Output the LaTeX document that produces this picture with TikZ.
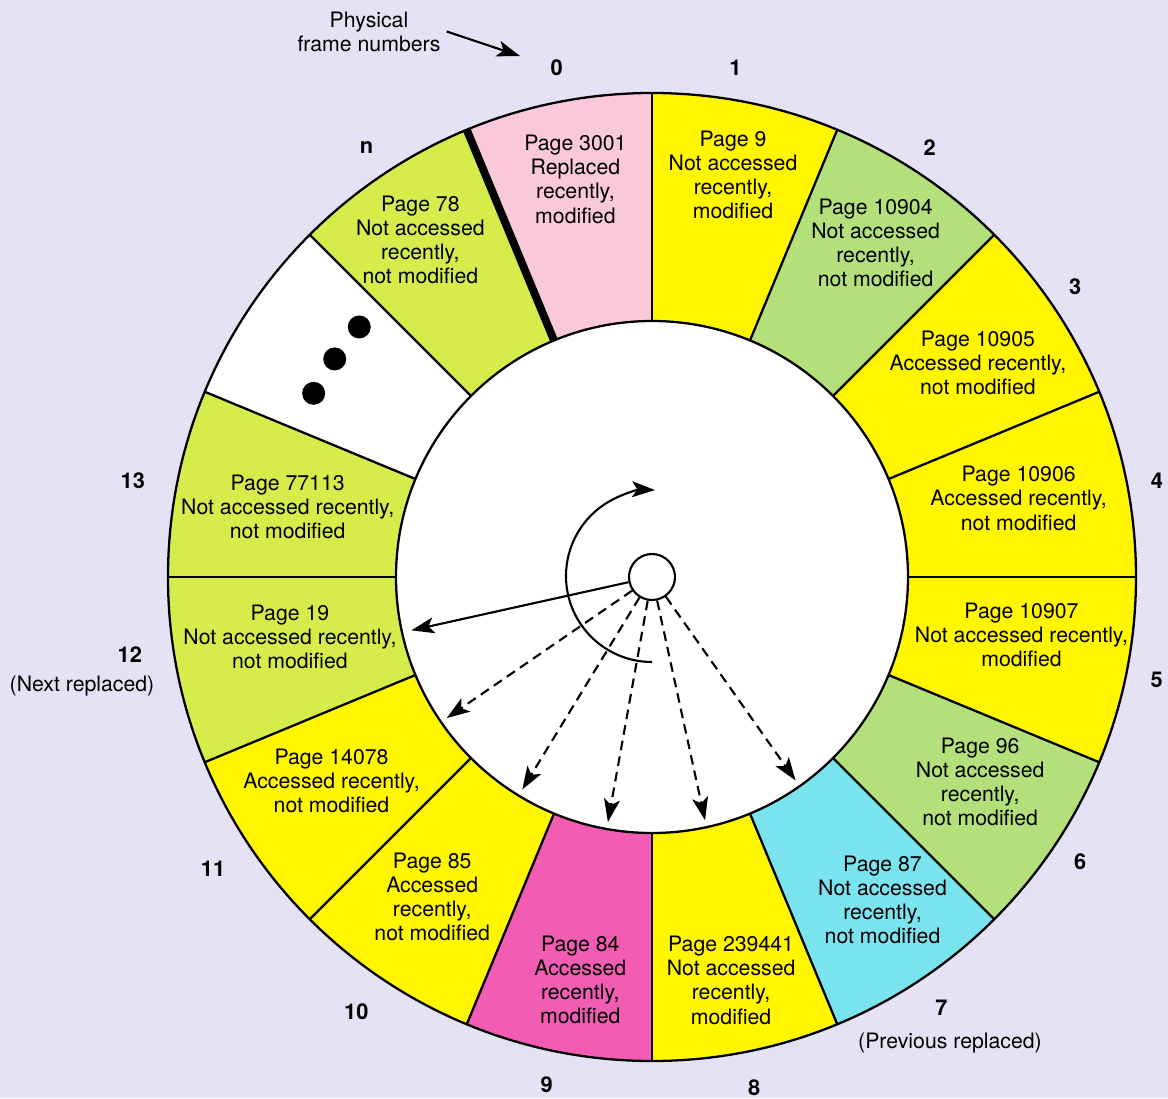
\documentclass[tikz,border=0pt]{standalone}
\usepackage{fontspec}
\setmainfont{TeX Gyre Heros}
\usetikzlibrary{arrows.meta, positioning, calc}

\begin{document}
\begin{tikzpicture}[
    every node/.style={font=\fontsize{12.1}{13.7}\selectfont},
]

% ---------------------------------------------------------------- colours
\definecolor{bgcol}{HTML}{E4E2F4}     % the page behind the dial
\definecolor{yelcol}{HTML}{FFF600}
\definecolor{pinkcol}{HTML}{F9C8DB}   % just replaced
\definecolor{greencol}{HTML}{B4E07C}
\definecolor{limecol}{HTML}{D6EC4A}
\definecolor{cyancol}{HTML}{7AE4EE}   % previous replaced
\definecolor{magcol}{HTML}{F25CB2}

% ================================================================
% Geometry: 1px of the drawing = 0.02cm, dial centre at the origin.
%
%   sixteen frames, 22.5 deg each, frame k spans
%   112.5 - 22.5k  down to  90 - 22.5k   (k = 14 is the dots, 15 is n)
%   outer ring radius 9.68, inner disc radius 5.12
%   frame numbers sit just outside the ring, r about 10.4
% ================================================================

\def\rout{9.68}
\def\rin{5.12}

\tikzset{
    segline/.style={draw=black, line width=1.3pt},
    pagetext/.style={align=center, inner sep=1pt},
    framenum/.style={font=\fontsize{12.4}{13}\selectfont\bfseries},
    hand/.style={draw=black, line width=1.2pt,
        -{Stealth[length=4.6mm, width=3.2mm, inset=1.1mm]}},
    probe/.style={hand, dash pattern=on 5.5pt off 3.5pt},
    note/.style={font=\fontsize{12.1}{13.7}\selectfont, align=center},
}

% ---------------------------------------------------------------- page
\fill[bgcol] (-13.04,-10.42) rectangle (10.32,11.54);
\useasboundingbox (-13.04,-10.42) rectangle (10.32,11.54);

% ---------------------------------------------------------------- the ring
\foreach \k/\c in {0/pinkcol, 1/yelcol, 2/greencol, 3/yelcol, 4/yelcol,
        5/yelcol, 6/greencol, 7/cyancol, 8/yelcol, 9/magcol, 10/yelcol,
        11/yelcol, 12/limecol, 13/limecol, 14/white, 15/limecol} {
    \pgfmathsetmacro{\a}{112.5-22.5*\k}
    \pgfmathsetmacro{\b}{\a-22.5}
    \fill[\c] (\a:\rin) -- (\a:\rout)
        arc[start angle=\a, end angle=\b, radius=\rout]
        -- (\b:\rin) arc[start angle=\b, end angle=\a, radius=\rin] -- cycle;
}

\foreach \k in {1,...,15} {
    \pgfmathsetmacro{\a}{112.5-22.5*\k}
    \draw[segline] (\a:\rin) -- (\a:\rout);
}
\draw[segline] (0,0) circle (\rout);
\draw[segline, fill=white] (0,0) circle (\rin);
\draw[line width=4.5pt] (112.5:\rin) -- (112.5:\rout);

% ---------------------------------------------------------------- page entries
\foreach \k/\ang/\rad/\txt in {
        0/100.9/8.1/{Page 3001\\Replaced\\recently,\\modified},
        1/78.6/8.2/{Page 9\\Not accessed\\recently,\\modified},
        2/56.2/8.04/{Page 10904\\Not accessed\\recently,\\not modified},
        3/33.3/7.8/{Page 10905\\Accessed recently,\\not modified},
        4/12.1/7.5/{Page 10906\\Accessed recently,\\not modified},
        5/-8.9/7.48/{Page 10907\\Not accessed recently,\\modified},
        6/-32/7.74/{Page 96\\Not accessed\\recently,\\not modified},
        7/-54.5/7.94/{Page 87\\Not accessed\\recently,\\not modified},
        8/-78.9/8.22/{Page 239441\\Not accessed\\recently,\\modified},
        9/-100.1/8.18/{Page 84\\Accessed\\recently,\\modified},
        10/-124.5/7.76/{Page 85\\Accessed\\recently,\\not modified},
        11/-147.5/7.6/{Page 14078\\Accessed recently,\\not modified},
        12/-170.6/7.34/{Page 19\\Not accessed recently,\\not modified},
        13/169.1/7.42/{Page 77113\\Not accessed recently,\\not modified},
        n/124.5/8.18/{Page 78\\Not accessed\\recently,\\not modified}} {
    \node[pagetext] (pg\k) at (\ang:\rad) {\txt};
}

% the frames left out
\foreach \ang in {139.5, 145.5, 151.5}
    \fill (\ang:7.7) circle (0.23);

% ---------------------------------------------------------------- frame numbers
\foreach \lbl/\ang/\rad in {0/100.6/10.36, 1/80.7/10.32, 2/57.1/10.22,
        3/34.4/10.26, 4/10.8/10.28, 5/-11.5/10.3, 6/-33.6/10.28,
        7/-56.1/10.38, 8/-78.7/10.42, 9/-101.7/10.38, 10/-124.2/10.52,
        11/-146.4/10.54, 12/-171.5/10.56, 13/169.5/10.56, n/123.6/10.32} {
    \node[framenum] (fn\lbl) at (\ang:\rad) {\lbl};
}

\node[note] (nextrep) at (-11.4,-2.18) {(Next replaced)};
\node[note] (prevrep) at (5.96,-9.32) {(Previous replaced)};

\node[note] (physlbl) at (-5.66,10.91) {Physical\\frame numbers};
\coordinate (frametip) at (-2.64,10.42);
\draw[hand] (physlbl.east) -- (frametip);

% ---------------------------------------------------------------- the hand
\node[circle, draw, line width=1.2pt, fill=white, minimum size=0.92cm,
    inner sep=0pt] (hub) at (0,0) {};

\coordinate (t12) at (192.5:4.93);
\coordinate (t11) at (214.5:4.98);
\coordinate (t10) at (238.6:4.98);
\coordinate (t9)  at (259.8:4.98);
\coordinate (t8)  at (282.3:4.98);
\coordinate (t7)  at (305.2:4.98);

\draw[hand] (hub) -- (t12);
\foreach \t in {11,10,9,8,7}
    \draw[probe] (hub) -- (t\t);

\coordinate (sweepstart) at (-90:1.7);
\draw[hand] (sweepstart) arc[start angle=-90, end angle=-272, radius=1.72];

\end{tikzpicture}
\end{document}
